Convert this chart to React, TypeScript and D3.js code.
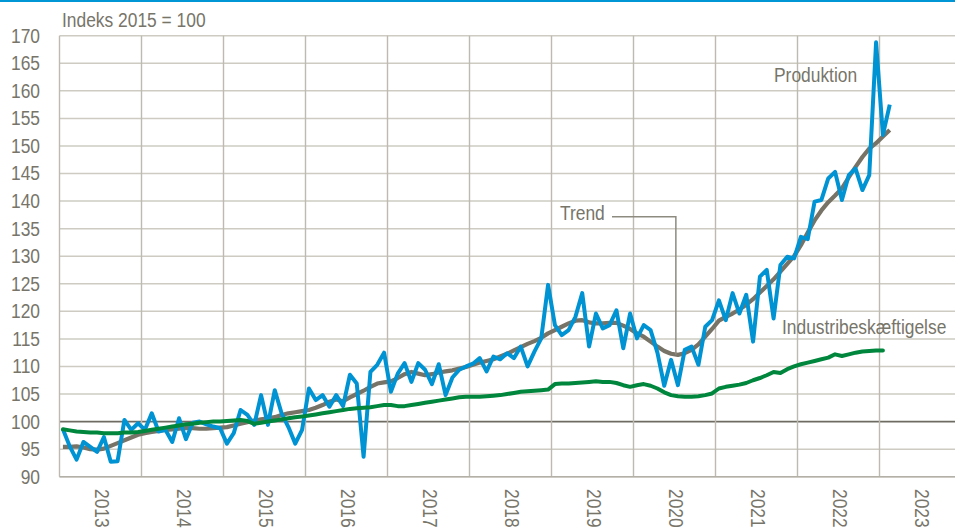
import React from 'react';
import * as d3 from 'd3';

// monthly, jan 2013 -> feb 2023
const years = [2013, 2014, 2015, 2016, 2017, 2018, 2019, 2020, 2021, 2022, 2023];
const yTicks = [90, 95, 100, 105, 110, 115, 120, 125, 130, 135, 140, 145, 150, 155, 160, 165, 170];

const produktion = [
  98.6, 95.5, 93.1, 96.3, 95.4, 94.5, 97.2, 92.7, 92.8, 100.3, 98.5, 99.7,
  98.5, 101.5, 98.2, 98.5, 96.3, 100.6, 96.8, 99.8, 100.0, 99.5, 99.1, 98.8,
  96.0, 97.9, 102.1, 101.2, 99.4, 104.8, 99.4, 105.7, 101.5, 99.0, 96.0, 98.5,
  106.0, 103.9, 104.8, 102.7, 104.8, 102.8, 108.5, 106.9, 93.6, 109.0, 110.3, 112.5,
  105.4, 108.7, 110.6, 107.2, 110.6, 109.4, 106.8, 110.4, 104.8, 108.0, 109.4, 110.0,
  110.5, 111.5, 109.1, 111.8, 111.3, 112.4, 111.5, 113.6, 110.0, 112.7, 115.1, 124.8,
  117.5, 115.7, 116.6, 119.0, 123.3, 113.6, 119.6, 116.9, 117.5, 120.2, 113.3, 119.6,
  115.1, 117.5, 116.6, 112.5, 106.5, 111.2, 106.6, 113.0, 113.6, 110.3, 117.2, 118.4,
  122.0, 118.4, 123.3, 119.6, 123.0, 114.5, 126.3, 127.5, 118.7, 128.4, 129.9, 129.6,
  133.5, 133.1, 139.9, 140.2, 144.1, 145.3, 140.2, 144.7, 145.9, 142.0, 144.7, 168.8,
  152.0, 157.5,
];

const trend = [
  95.4, 95.4, 95.5, 95.3, 95.0, 94.9, 95.1, 95.6, 96.1, 96.6, 97.1, 97.6,
  97.9, 98.1, 98.3, 98.5, 98.6, 98.7, 98.8, 98.8, 98.7, 98.7, 98.8, 98.9,
  99.0, 99.3, 99.6, 99.9, 100.2, 100.4, 100.6, 100.8, 101.2, 101.5, 101.7, 101.9,
  102.1, 102.5, 103.0, 103.6, 104.0, 103.7, 104.4, 105.0, 105.6, 106.3, 106.9, 107.1,
  107.3, 107.9, 108.6, 109.0, 108.7, 108.4, 108.6, 108.9, 109.1, 109.3, 109.6, 109.9,
  110.3, 110.7, 111.0, 111.3, 111.8, 112.3, 112.9, 113.5, 114.1, 114.6, 115.2, 116.0,
  116.6, 117.2, 117.8, 118.3, 118.4, 118.0, 117.8, 117.8, 117.9, 117.9, 117.4, 116.8,
  116.0, 115.4, 114.5, 113.6, 112.8, 112.3, 112.1, 112.4, 113.0, 114.0, 115.4, 116.8,
  118.3, 119.0, 119.6, 120.3, 121.2, 122.2, 123.4, 124.6, 125.8, 127.2, 128.6, 130.0,
  132.0, 134.3, 136.5, 138.3, 139.8, 141.0, 142.3, 144.3, 146.2, 148.0, 149.5, 150.5,
  151.7, 152.9,
];

const beskaeftigelse = [
  98.6, 98.4, 98.2, 98.1, 98.0, 98.0, 97.9, 97.9, 97.9, 98.0, 98.0, 98.1,
  98.3, 98.5, 98.7, 98.9, 99.1, 99.3, 99.5, 99.6, 99.8, 99.9, 100.0, 100.0,
  100.1, 100.2, 100.3, 100.1, 99.6, 99.8, 100.0, 100.2, 100.4, 100.6, 100.8, 100.9,
  101.1, 101.3, 101.5, 101.7, 101.9, 102.1, 102.3, 102.4, 102.5, 102.6, 102.8, 103.0,
  103.0, 102.8, 102.8, 103.0, 103.2, 103.4, 103.6, 103.8, 104.0, 104.2, 104.4, 104.5,
  104.5, 104.5, 104.6, 104.7, 104.8, 105.0, 105.2, 105.4, 105.5, 105.6, 105.7, 105.8,
  106.8, 106.9, 106.9, 107.0, 107.1, 107.2, 107.3, 107.2, 107.2, 107.0, 106.6, 106.3,
  106.6, 106.8, 106.5, 106.0, 105.3, 104.8, 104.6, 104.5, 104.5, 104.6, 104.8, 105.1,
  106.0, 106.3, 106.5, 106.7, 107.0, 107.5, 107.9, 108.4, 109.0, 108.8, 109.5, 110.0,
  110.4, 110.7, 111.0, 111.3, 111.6, 112.2, 111.9, 112.2, 112.5, 112.7, 112.8, 112.9,
  112.9,
];

const W = 955;
const H = 528;
const txt = '#77756a';
const font = '"Liberation Sans", Arial, sans-serif';
const sx = 0.87; // squeeze to mimic the narrow font of the original

// small helper for the condensed labels
const Label = ({ x, y, rot = 0, anchor = 'start', baseline = 'auto', children }: any) => (
  <text
    transform={`translate(${x},${y}) rotate(${rot}) scale(${sx},1)`}
    textAnchor={anchor}
    dominantBaseline={baseline}
    fontFamily={font}
    fontSize={20}
    fill={txt}
  >
    {children}
  </text>
);

export default function App() {
  const x = d3.scaleLinear().domain([0, years.length * 12]).range([59.5, 961.5]);
  const y = d3.scaleLinear().domain([90, 170]).range([476.7, 35.7]);

  const line = d3
    .line<number>()
    .x((_, i) => x(i + 0.5))
    .y((d) => y(d));

  // leader line from "Trend" down to the 2020 trough
  const trough = 90;
  const lx = x(trough + 0.2);
  const ly = y(trend[trough]);

  return (
    <svg width={W} height={H} style={{ position: 'absolute', left: 0, top: 0, background: '#fff' }}>
      <rect x={0} y={0} width={W} height={2} fill="#0096d6" />

      {/* horizontal grid */}
      {yTicks.map((t) => (
        <line key={'h' + t} x1={x(0)} x2={W} y1={y(t)} y2={y(t)}
          stroke={t === 100 ? '#6e6c62' : '#cdcbc2'} strokeWidth={t === 100 ? 1.6 : 1.5} />
      ))}
      {/* vertical year grid */}
      {d3.range(years.length + 1).map((k) => (
        <line key={'v' + k} x1={x(k * 12)} x2={x(k * 12)} y1={y(170)} y2={y(90)}
          stroke="#bdbbb1" strokeWidth={1.4} />
      ))}
      <line x1={x(0)} x2={W} y1={y(90)} y2={y(90)} stroke="#b3b1a7" strokeWidth={1.5} />

      {/* y labels */}
      {yTicks.map((t) => (
        <Label key={'yl' + t} x={40} y={y(t)} anchor="end" baseline="central">{t}</Label>
      ))}
      {/* x labels */}
      {years.map((yr, k) => (
        <Label key={'xl' + yr} x={x(k * 12 + 6) + 1} y={489} rot={90} baseline="central">{yr}</Label>
      ))}

      <Label x={62} y={27}>Indeks 2015 = 100</Label>

      {/* series */}
      <path d={line(trend) || ''} fill="none" stroke="#777366" strokeWidth={4.2} strokeLinejoin="round" />
      <path d={line(produktion) || ''} fill="none" stroke="#0093d4" strokeWidth={4} strokeLinejoin="round" />
      <path d={line(beskaeftigelse) || ''} fill="none" stroke="#00873d" strokeWidth={4} strokeLinejoin="round" strokeLinecap="round" />

      {/* annotations */}
      <polyline points={`612,216.7 ${lx},216.7 ${lx},${ly}`} fill="none" stroke="#8d8b80" strokeWidth={1.5} />
      <Label x={560} y={220}>Trend</Label>
      <Label x={774} y={82}>Produktion</Label>
      <Label x={782} y={334}>Industribeskæftigelse</Label>
    </svg>
  );
}
